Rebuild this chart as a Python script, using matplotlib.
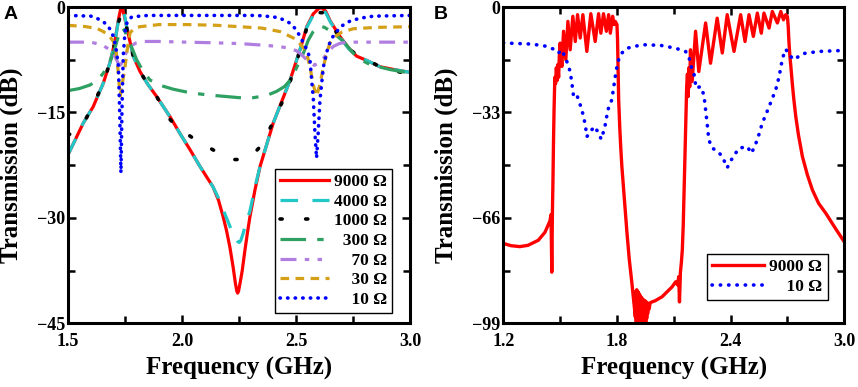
import matplotlib
matplotlib.use("Agg")
import matplotlib.pyplot as plt
from matplotlib.ticker import MultipleLocator

plt.rcParams['font.family'] = ['Liberation Serif', 'DejaVu Serif']
plt.rcParams['font.weight'] = 'bold'
plt.rcParams['axes.linewidth'] = 2.2

# ---- panel A: transmission for several resistances (1.5-3.0 GHz)
f_9000 = [1.50, 1.53, 1.567, 1.61, 1.655, 1.685, 1.705, 1.721, 1.730, 1.737, 1.745, 1.757, 1.786,
          1.816, 1.85, 1.89, 1.947, 1.991, 2.035, 2.079, 2.136, 2.16, 2.18, 2.195, 2.21, 2.224,
          2.234, 2.240, 2.244, 2.248, 2.255, 2.264, 2.275, 2.286, 2.298, 2.32, 2.342, 2.40,
          2.474, 2.52, 2.547, 2.575, 2.600, 2.613, 2.63, 2.65, 2.693, 2.73, 2.766, 2.81, 2.868,
          2.93, 3.00]
db_9000 = [-21.0, -19.0, -16.5, -14.2, -10.8, -7.8, -5.0, -1.8, -0.4, -0.1, -1.0, -2.8, -7.0,
           -9.2, -11.0, -12.8, -15.6, -18.0, -20.3, -22.7, -25.6, -27.5, -29.8, -31.8, -34.2, -37.0,
           -39.3, -40.4, -40.7, -40.4, -39.2, -37.5, -34.8, -32.3, -29.8, -26.0, -22.7, -16.5,
           -10.4, -5.8, -2.8, -1.0, -0.2, -0.1, -0.6, -2.0, -4.2, -5.8, -7.0, -7.6, -8.5,
           -8.9, -9.3]

f_4000 = [1.50, 1.53, 1.567, 1.61, 1.655, 1.685, 1.705, 1.721, 1.732, 1.740, 1.748, 1.757, 1.786,
          1.816, 1.85, 1.89, 1.947, 1.991, 2.035, 2.079, 2.136, 2.16, 2.18, 2.20, 2.22, 2.235,
          2.245, 2.251, 2.258, 2.268, 2.28, 2.298, 2.32, 2.342, 2.40, 2.474, 2.52, 2.547, 2.575,
          2.598, 2.610, 2.63, 2.65, 2.693, 2.73, 2.766, 2.81, 2.868, 2.93, 3.00]
db_4000 = [-21.0, -19.0, -16.5, -14.2, -10.8, -7.8, -5.0, -2.0, -0.6, -0.5, -1.2, -2.8, -7.0,
           -9.2, -11.0, -12.8, -15.6, -18.0, -20.3, -22.7, -25.6, -27.2, -28.8, -30.4, -32.0, -33.0,
           -33.4, -33.5, -33.2, -32.2, -30.8, -29.0, -25.6, -22.7, -16.5, -10.4, -5.8, -2.9, -1.2,
           -0.5, -0.4, -0.8, -2.1, -4.3, -5.9, -7.0, -7.6, -8.5, -8.9, -9.3]

f_1000 = [1.50, 1.54, 1.575, 1.61, 1.655, 1.685, 1.705, 1.721, 1.733, 1.740, 1.750, 1.757, 1.786,
          1.816, 1.85, 1.89, 1.933, 1.97, 2.006, 2.05, 2.093, 2.14, 2.181, 2.23, 2.276, 2.31,
          2.342, 2.393, 2.437, 2.474, 2.52, 2.547, 2.575, 2.60, 2.615, 2.63, 2.65, 2.693, 2.73,
          2.766, 2.81, 2.868, 2.93, 3.00]
db_1000 = [-18.3, -17.2, -16.1, -14.0, -10.7, -7.8, -5.2, -2.2, -1.0, -0.8, -1.8, -3.0, -7.0,
           -9.2, -11.0, -12.8, -15.5, -16.8, -17.7, -18.7, -19.5, -20.4, -21.2, -21.7, -21.7, -21.0,
           -19.9, -16.8, -13.7, -10.6, -6.0, -3.0, -1.3, -0.8, -0.8, -1.3, -2.3, -4.4, -5.9,
           -6.8, -7.5, -8.5, -9.1, -9.5]

f_300 = [1.50, 1.55, 1.596, 1.63, 1.655, 1.68, 1.699, 1.715, 1.728, 1.74, 1.75, 1.77, 1.801,
         1.83, 1.86, 1.91, 1.962, 2.035, 2.11, 2.181, 2.25, 2.313, 2.37, 2.415, 2.45, 2.474,
         2.50, 2.532, 2.554, 2.575, 2.59, 2.605, 2.625, 2.645, 2.664, 2.708, 2.752, 2.79, 2.825,
         2.912, 3.00]
db_300 = [-11.9, -11.6, -11.1, -10.4, -9.4, -8.0, -6.6, -4.8, -3.4, -3.0, -3.5, -5.0, -7.5,
          -9.2, -10.4, -11.2, -11.7, -12.2, -12.5, -12.7, -12.9, -12.9, -12.6, -12.0, -11.3, -10.4,
          -8.8, -6.6, -4.7, -3.5, -2.9, -2.7, -2.9, -3.3, -3.7, -4.9, -6.6, -7.6, -8.2,
          -8.9, -9.4]

f_70 = [1.50, 1.60, 1.65, 1.684, 1.705, 1.72, 1.728, 1.74, 1.755, 1.772, 1.80, 1.83, 1.90,
        2.02, 2.15, 2.25, 2.342, 2.42, 2.46, 2.50, 2.518, 2.54, 2.565, 2.58, 2.596, 2.62,
        2.645, 2.664, 2.69, 2.72, 2.85, 3.00]
db_70 = [-5.0, -5.0, -5.4, -6.1, -7.0, -8.0, -8.3, -7.8, -6.5, -5.6, -5.1, -4.9, -4.9,
         -5.0, -5.1, -5.2, -5.4, -5.6, -5.8, -6.2, -6.6, -7.3, -8.0, -8.3, -8.0, -7.3,
         -6.2, -5.6, -5.2, -5.0, -5.0, -5.0]

f_30 = [1.50, 1.58, 1.63, 1.655, 1.68, 1.699, 1.712, 1.722, 1.728, 1.735, 1.75, 1.762, 1.772,
        1.79, 1.816, 1.90, 2.02, 2.15, 2.25, 2.35, 2.43, 2.488, 2.52, 2.539, 2.55, 2.561,
        2.575, 2.59, 2.605, 2.62, 2.635, 2.649, 2.67, 2.70, 2.75, 2.85, 3.00]
db_30 = [-2.6, -2.8, -3.1, -3.5, -4.1, -4.9, -6.5, -10.0, -12.7, -11.5, -8.5, -5.5, -3.7,
         -3.0, -2.8, -2.5, -2.5, -2.6, -2.8, -3.0, -3.5, -4.4, -5.3, -6.1, -7.0, -8.5,
         -11.0, -12.7, -11.0, -8.5, -6.5, -5.1, -4.2, -3.6, -3.1, -2.9, -2.8]

f_10 = [1.50, 1.60, 1.626, 1.65, 1.67, 1.685, 1.699, 1.71, 1.721, 1.727, 1.732, 1.737, 1.742,
        1.75, 1.76, 1.78, 1.85, 2.0, 2.2, 2.328, 2.40, 2.43, 2.474, 2.50, 2.518, 2.54, 2.554,
        2.561, 2.576, 2.583, 2.59, 2.597, 2.605, 2.62, 2.641, 2.66, 2.678, 2.70, 2.737, 2.78,
        2.839, 3.00]
db_10 = [-1.2, -1.3, -1.6, -2.0, -2.5, -3.2, -4.2, -5.8, -8.5, -15.6, -23.6, -14.0, -7.0,
         -3.5, -2.0, -1.4, -1.2, -1.2, -1.2, -1.2, -1.4, -1.6, -2.3, -3.2, -4.2, -5.6, -6.6,
         -7.5, -13.2, -18.0, -21.5, -18.0, -13.2, -8.5, -5.6, -4.3, -3.5, -2.7, -2.0, -1.6,
         -1.3, -1.2]

# ---- panel B: wide band, 9000 and 10 ohm
fb_9000 = [1.200, 1.24, 1.287, 1.33, 1.385, 1.42, 1.446, 1.452, 1.456, 1.459, 1.462, 1.465,
           1.468, 1.472, 1.476, 1.480, 1.484, 1.488, 1.492, 1.496, 1.500, 1.509, 1.518, 1.530,
           1.541, 1.553, 1.567, 1.580, 1.592, 1.606, 1.620, 1.641, 1.662, 1.685, 1.703, 1.715,
           1.729, 1.744, 1.756, 1.765, 1.777, 1.785, 1.791, 1.800, 1.803, 1.806, 1.809, 1.815,
           1.820, 1.826, 1.835, 1.845, 1.853, 1.865, 1.879, 1.890, 1.897,
           1.8995, 1.902, 1.9045, 1.907, 1.9095, 1.912, 1.9145, 1.917, 1.9195, 1.922, 1.9245,
           1.927, 1.9295, 1.932, 1.9345, 1.937, 1.9395, 1.942, 1.9445, 1.947, 1.9495, 1.952,
           1.9545, 1.957, 1.9595, 1.962, 1.965, 1.970, 1.975, 1.985, 2.000, 2.038, 2.091, 2.110,
           2.120, 2.126, 2.130, 2.135, 2.140, 2.145, 2.150, 2.153, 2.158, 2.162, 2.166, 2.168,
           2.172, 2.176, 2.180, 2.184, 2.188, 2.197, 2.215, 2.232, 2.268, 2.294, 2.329, 2.356,
           2.382, 2.418, 2.453, 2.476, 2.497, 2.520, 2.541, 2.562, 2.576, 2.603, 2.620, 2.647,
           2.665, 2.679, 2.691, 2.700, 2.704, 2.708, 2.713, 2.718, 2.725, 2.733, 2.744, 2.758,
           2.779, 2.805, 2.832, 2.865, 2.903, 2.950, 3.000]
db_b9000 = [-74.0, -74.7, -75.0, -74.6, -73.0, -70.5, -67.0, -65.0, -83.0, -65.0, -55.0, -42.0,
            -32.0, -22.0, -24.0, -19.0, -23.0, -18.0, -22.0, -15.0, -11.3, -18.6, -7.6, -16.5,
            -4.5, -13.4, -2.9, -10.8, -2.4, -9.7, -2.4, -13.9, -2.1, -10.8, -2.1, -8.2,
            -2.1, -7.6, -2.4, -8.2, -2.9, -5.5, -4.5, -5.5, -10.0, -19.0, -29.0, -38.0,
            -44.0, -50.0, -57.0, -64.5, -70.8, -79.0, -86.5, -93.0, -97.0,
            -89.0, -101.0, -88.5, -101.0, -89.0, -101.0, -89.5, -101.0, -90.0, -101.0, -90.5,
            -101.0, -91.0, -101.0, -91.3, -101.0, -91.6, -101.0, -92.0, -100.0, -92.0, -99.0,
            -92.3, -97.5, -92.5, -96.0, -93.0, -94.5, -92.6, -92.3, -92.0, -90.7, -87.6, -86.0,
            -87.0, -84.4, -92.3, -83.0, -80.0, -76.0, -68.0, -60.4, -49.0, -39.5, -29.0, -25.0,
            -21.0, -28.0, -19.0, -25.0, -13.4, -23.3, -7.6, -20.2, -5.0, -17.6, -3.5, -14.4,
            -2.4, -13.9, -2.4, -10.8, -2.4, -9.2, -1.9, -8.2, -1.9, -6.6, -1.4, -5.0,
            -1.4, -4.0, -2.4, -3.0, -6.0, -11.0, -15.5, -18.6, -23.5, -28.5, -34.3, -40.0,
            -46.8, -52.5, -57.3, -61.5, -64.6, -69.0, -73.5]

fb_10 = [1.200, 1.217, 1.35, 1.429, 1.474, 1.491, 1.509, 1.535, 1.553, 1.562, 1.571, 1.588,
         1.615, 1.633, 1.641, 1.659, 1.682, 1.703, 1.717, 1.729, 1.738, 1.752, 1.773, 1.791,
         1.800, 1.809, 1.826, 1.853, 1.932, 2.03, 2.109, 2.162, 2.18, 2.188, 2.206, 2.218,
         2.241, 2.259, 2.268, 2.276, 2.285, 2.303, 2.329, 2.356, 2.382, 2.409, 2.444, 2.488,
         2.510, 2.541, 2.567, 2.603, 2.638, 2.656, 2.674, 2.691, 2.709, 2.735, 2.779, 2.868,
         3.00]
db_b10 = [-11.2, -11.3, -11.6, -12.3, -13.4, -14.4, -13.4, -17.0, -20.2, -23.8, -28.0, -27.5,
          -32.2, -36.9, -40.6, -39.0, -37.4, -39.5, -41.4, -39.0, -36.9, -32.2, -29.0, -21.8,
          -18.6, -16.5, -14.4, -12.9, -11.8, -12.0, -12.9, -13.9, -15.5, -18.1, -20.7, -25.4,
          -24.9, -27.5, -32.2, -36.4, -41.6, -44.2, -45.0, -46.8, -50.3, -47.3, -44.2, -43.7,
          -45.8, -41.6, -36.4, -31.2, -25.9, -21.8, -16.0, -13.2, -15.0, -16.5, -14.6, -13.9,
          -13.6]

FS = '\u2007'  # figure space keeps legend labels right aligned
labels_a = ['9000 Ω', '4000 Ω', '1000 Ω', FS + '300 Ω', FS * 2 + '70 Ω', FS * 2 + '30 Ω', FS * 2 + '10 Ω']

fig = plt.figure(figsize=(8.58, 3.87), dpi=100)
ax1 = fig.add_axes([0.0793, 0.1646, 0.3986, 0.8173])
ax2 = fig.add_axes([0.5866, 0.1646, 0.3974, 0.8173])

ax1.plot(f_9000, db_9000, color='#ff0000', lw=2.3, label=labels_a[0])
ax1.plot(f_4000, db_4000, color='#22c8c8', lw=2.3, ls=(0, (5.5, 4.5)), label=labels_a[1])
ax1.plot(f_1000, db_1000, color='black', lw=2.6, ls=(0, (0.6, 6.5)), dash_capstyle='round', label=labels_a[2])
ax1.plot(f_300, db_300, color='#2ea062', lw=2.3, ls=(0, (8.0, 3.5, 2.0, 3.5)), label=labels_a[3])
ax1.plot(f_70, db_70, color='#b07ee0', lw=2.3, ls=(0, (5.0, 2.6, 1.4, 2.6, 1.4, 2.6)), label=labels_a[4])
ax1.plot(f_30, db_30, color='#d4a017', lw=2.3, ls=(0, (2.7, 2.0)), label=labels_a[5])
ax1.plot(f_10, db_10, color='#0000ff', lw=2.6, ls=(0, (0.1, 2.0)), dash_capstyle='round', label=labels_a[6])

ax2.plot(fb_9000, db_b9000, color='#ff0000', lw=2.4, label='9000 Ω')
ax2.plot(fb_10, db_b10, color='#0000ff', lw=2.6, ls=(0, (0.1, 2.2)), dash_capstyle='round', label=FS * 2 + '10 Ω')

ax1.set_xlim(1.5, 3.0)
ax1.set_ylim(-45, 0)
ax1.xaxis.set_major_locator(MultipleLocator(0.5))
ax1.xaxis.set_minor_locator(MultipleLocator(0.25))
ax1.yaxis.set_major_locator(MultipleLocator(15))
ax1.yaxis.set_minor_locator(MultipleLocator(7.5))
ax1.xaxis.set_major_formatter(plt.FormatStrFormatter('%.1f'))

ax2.set_xlim(1.2, 3.0)
ax2.set_ylim(-99, 0)
ax2.xaxis.set_major_locator(MultipleLocator(0.6))
ax2.xaxis.set_minor_locator(MultipleLocator(0.3))
ax2.yaxis.set_major_locator(MultipleLocator(33))
ax2.yaxis.set_minor_locator(MultipleLocator(16.5))
ax2.xaxis.set_major_formatter(plt.FormatStrFormatter('%.1f'))

for ax in (ax1, ax2):
    ax.tick_params(which='both', direction='in', top=True, right=True, width=1.8, labelsize=13)
    ax.tick_params(which='major', length=6)
    ax.tick_params(which='minor', length=5)
    ax.tick_params(axis='x', pad=7)
    ax.tick_params(axis='y', pad=2)
    ax.set_xlabel('Frequency (GHz)', fontsize=18, fontweight='bold', labelpad=5)
    ax.set_ylabel('Transmission (dB)', fontsize=18, fontweight='bold', va='center')
    ax.yaxis.set_label_coords(-0.166, 0.5)

leg1 = ax1.legend(loc='lower right', bbox_to_anchor=(0.948, 0.032), fontsize=12.5, frameon=True,
                  fancybox=False, edgecolor='black', framealpha=1, handlelength=2.8,
                  handletextpad=0.3, labelspacing=0.2, borderpad=0.3, borderaxespad=0)
leg1.get_frame().set_linewidth(1.0)
leg2 = ax2.legend(loc='lower right', bbox_to_anchor=(0.951, 0.074), fontsize=12.5, frameon=True,
                  fancybox=False, edgecolor='black', framealpha=1, handlelength=3.0,
                  handletextpad=0.3, labelspacing=0.2, borderpad=0.3, borderaxespad=0)
leg2.get_frame().set_linewidth(1.0)

fig.text(0.004, 0.985, 'A', fontsize=14, fontweight='bold', family='Liberation Sans', va='top')
fig.text(0.506, 0.985, 'B', fontsize=14, fontweight='bold', family='Liberation Sans', va='top')

fig.savefig('out.png', dpi=100)
